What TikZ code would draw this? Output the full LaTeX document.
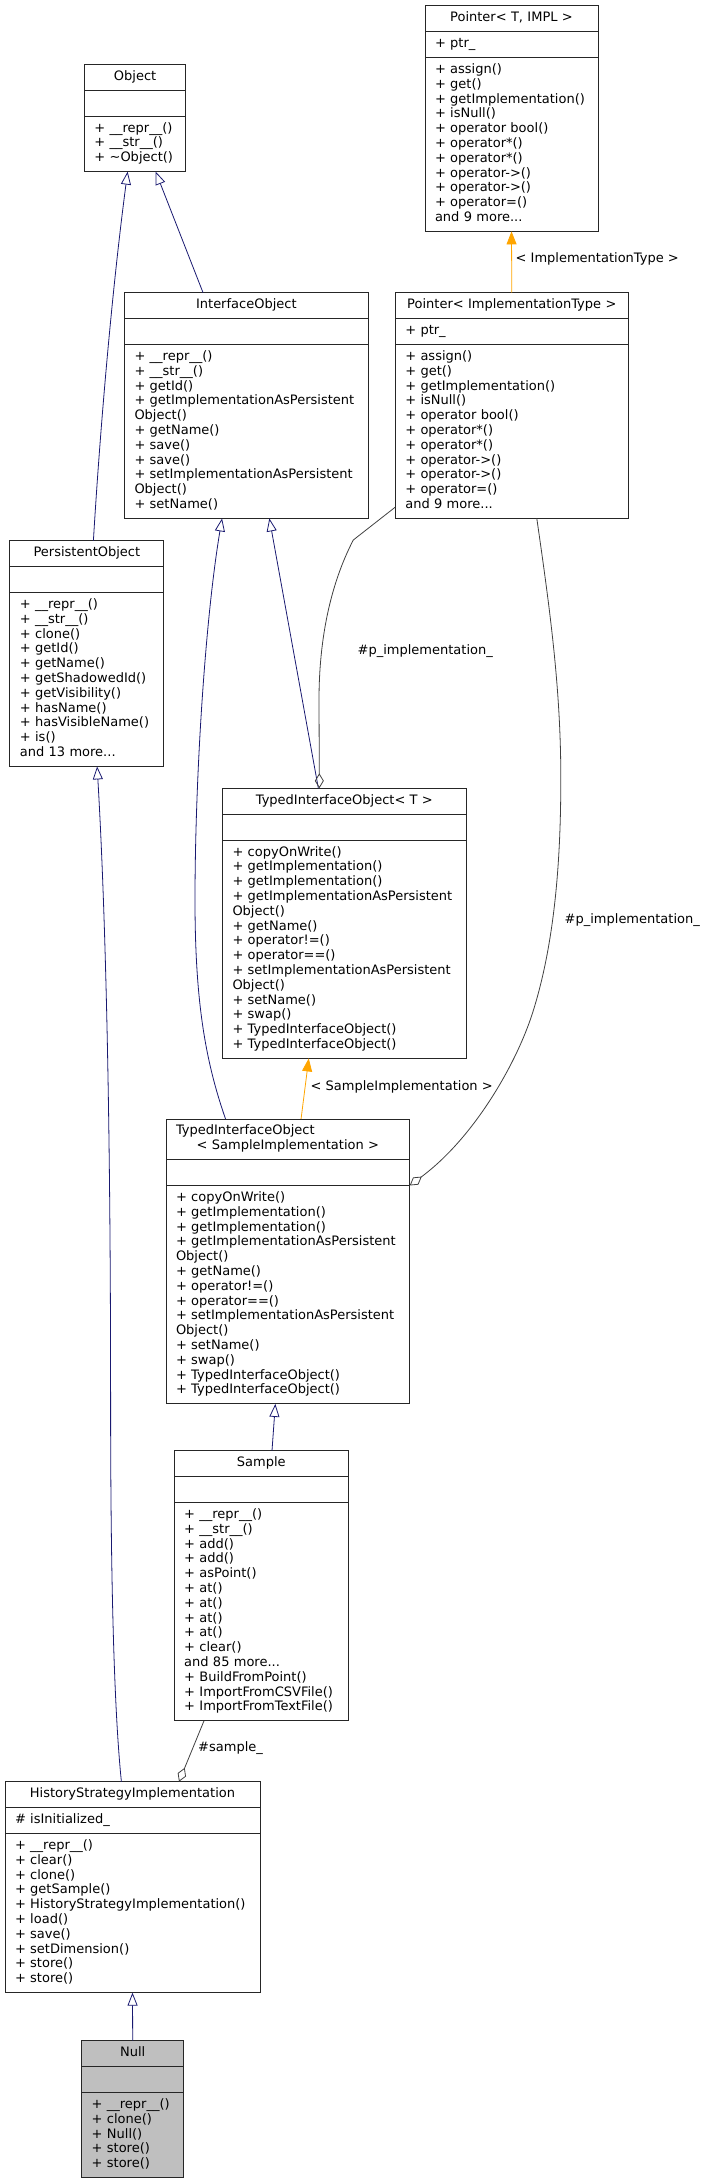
\documentclass[tikz,border=0pt]{standalone}
\usepackage{fontspec}
\setmainfont{DejaVu Sans}
\usepackage{tikz}
\usetikzlibrary{arrows.meta,shapes.multipart,positioning}
\definecolor{inhblue}{HTML}{191970}
\definecolor{tmplorange}{HTML}{FFA500}
\definecolor{usegray}{HTML}{404040}

\begin{document}
\begin{tikzpicture}[x=1pt,y=-1pt,
  cls/.style={draw=black!85,line width=0.9pt,rectangle split,rectangle split parts=3,
    anchor=north west,outer sep=0pt,inner xsep=10pt,inner ysep=5.1pt,align=left,
    font=\fontsize{13}{14.8}\selectfont,
    execute at begin node=\strut,execute at end node=\strut},
  lbl/.style={anchor=west,inner sep=0pt,font=\fontsize{13}{14.8}\selectfont},
  inh/.style={inhblue,line width=0.8pt,-{Triangle[open,length=13pt,width=10pt]}},
  tmpl/.style={tmplorange,line width=0.8pt,-{Triangle[length=13pt,width=10pt]}},
  agg/.style={usegray,line width=0.8pt,-{Diamond[open,length=15pt,width=9pt]}}]
\useasboundingbox (0,0) rectangle (704,2181);

% classes
\node[cls,text width=153pt] (pointerT) at (425,5.7) {\hfill Pointer< T, IMPL >\hfill
  \nodepart{two}+ ptr\_
  \nodepart{three}+ assign()\\+ get()\\+ getImplementation()\\+ isNull()\\+ operator bool()\\+ operator*()\\+ operator*()\\+ operator->()\\+ operator->()\\+ operator=()\\and 9 more...};
\node[cls,text width=81.5pt] (object) at (84.4,64.3) {\hfill Object\hfill
  \nodepart{two}
  \nodepart{three}+ \_\_repr\_\_()\\+ \_\_str\_\_()\\+ \textasciitilde Object()};
\node[cls,text width=223.7pt] (iface) at (124.5,292.7) {\hfill InterfaceObject\hfill
  \nodepart{two}
  \nodepart{three}+ \_\_repr\_\_()\\+ \_\_str\_\_()\\+ getId()\\+ getImplementationAsPersistent\\Object()\\+ getName()\\+ save()\\+ save()\\+ setImplementationAsPersistent\\Object()\\+ setName()};
\node[cls,text width=213pt] (pointerI) at (395.3,292.7) {\hfill Pointer< ImplementationType >\hfill
  \nodepart{two}+ ptr\_
  \nodepart{three}+ assign()\\+ get()\\+ getImplementation()\\+ isNull()\\+ operator bool()\\+ operator*()\\+ operator*()\\+ operator->()\\+ operator->()\\+ operator=()\\and 9 more...};
\node[cls,text width=134pt] (persist) at (9.9,540.7) {\hfill PersistentObject\hfill
  \nodepart{two}
  \nodepart{three}+ \_\_repr\_\_()\\+ \_\_str\_\_()\\+ clone()\\+ getId()\\+ getName()\\+ getShadowedId()\\+ getVisibility()\\+ hasName()\\+ hasVisibleName()\\+ is()\\and 13 more...};
\node[cls,text width=223.7pt] (typedT) at (222.5,788.3) {\hfill TypedInterfaceObject< T >\hfill
  \nodepart{two}
  \nodepart{three}+ copyOnWrite()\\+ getImplementation()\\+ getImplementation()\\+ getImplementationAsPersistent\\Object()\\+ getName()\\+ operator!=()\\+ operator==()\\+ setImplementationAsPersistent\\Object()\\+ setName()\\+ swap()\\+ TypedInterfaceObject()\\+ TypedInterfaceObject()};
\node[cls,text width=223.7pt] (typedS) at (166,1119) {TypedInterfaceObject\\\hfill< SampleImplementation >\hfill
  \nodepart{two}
  \nodepart{three}+ copyOnWrite()\\+ getImplementation()\\+ getImplementation()\\+ getImplementationAsPersistent\\Object()\\+ getName()\\+ operator!=()\\+ operator==()\\+ setImplementationAsPersistent\\Object()\\+ setName()\\+ swap()\\+ TypedInterfaceObject()\\+ TypedInterfaceObject()};
\node[cls,text width=154.2pt] (sample) at (174.2,1450.7) {\hfill Sample\hfill
  \nodepart{two}
  \nodepart{three}+ \_\_repr\_\_()\\+ \_\_str\_\_()\\+ add()\\+ add()\\+ asPoint()\\+ at()\\+ at()\\+ at()\\+ at()\\+ clear()\\and 85 more...\\+ BuildFromPoint()\\+ ImportFromCSVFile()\\+ ImportFromTextFile()};
\node[cls,text width=235pt] (history) at (5,1781.7) {\hfill HistoryStrategyImplementation\hfill
  \nodepart{two}\# isInitialized\_
  \nodepart{three}+ \_\_repr\_\_()\\+ clear()\\+ clone()\\+ getSample()\\+ HistoryStrategyImplementation()\\+ load()\\+ save()\\+ setDimension()\\+ store()\\+ store()};
\node[cls,fill=black!25,text width=82pt] (null) at (81.7,2040.7) {\hfill Null\hfill
  \nodepart{two}
  \nodepart{three}+ \_\_repr\_\_()\\+ clone()\\+ Null()\\+ store()\\+ store()};

% inheritance
\draw[inh] ([xshift=6.5pt]persist.north) .. controls (100,430) and (112,290) .. ([xshift=-7.5pt]object.south);
\draw[inh] ([xshift=-43.3pt]iface.north) -- ([xshift=20.5pt]object.south);
\draw[inh] ([xshift=-26pt]typedT.north) -- ([xshift=23pt]iface.south);
\draw[inh] ([xshift=-62.3pt]typedS.north) .. controls (205,1060) and (195,1000) .. (195,900)
  .. controls (195,780) and (205,620) .. ([xshift=-24.3pt]iface.south);
\draw[inh] ([xshift=10.7pt]sample.north) -- ([xshift=-12.5pt]typedS.south);
\draw[inh] ([xshift=-11.1pt]history.north) .. controls (113,1700) and (110.6,1550) .. (110.6,1400)
  .. controls (110.6,1100) and (105,900) .. ([xshift=10.2pt]persist.south);
\draw[inh] (null.north) -- (history.south);

% template instances
\draw[tmpl] (pointerI.north) -- (pointerT.south);
\draw[tmpl] ([xshift=13.2pt]typedS.north) -- ([xshift=-35.6pt]typedT.south);
\node[lbl] (lbltype) at (515.5,259) {< ImplementationType >};
\node[lbl] (lblsimpl) at (310.5,1086.7) {< SampleImplementation >};

% members
\draw[agg] ([yshift=11.3pt]pointerI.south west) -- (353.3,540) .. controls (330,585) and (319,640) .. (319,700)
  -- ([xshift=-25pt]typedT.north);
\draw[agg] ([xshift=25pt]pointerI.south) .. controls (550,610) and (561,690) .. (560.8,780)
  .. controls (560.8,860) and (554.8,943.4) .. (532.4,1013.4)
  .. controls (516.4,1063.4) and (474.3,1137.6) .. ([yshift=-66.5pt]typedS.north east);
\draw[agg] ([xshift=-57.3pt]sample.south) -- ([xshift=46.5pt]history.north);
\node[lbl] (lblimplA) at (357.5,650.7) {\#p\_implementation\_};
\node[lbl] (lblimplB) at (564.5,920) {\#p\_implementation\_};
\node[lbl] (lblsample) at (198,1748.3) {\#sample\_};
\end{tikzpicture}
\end{document}
